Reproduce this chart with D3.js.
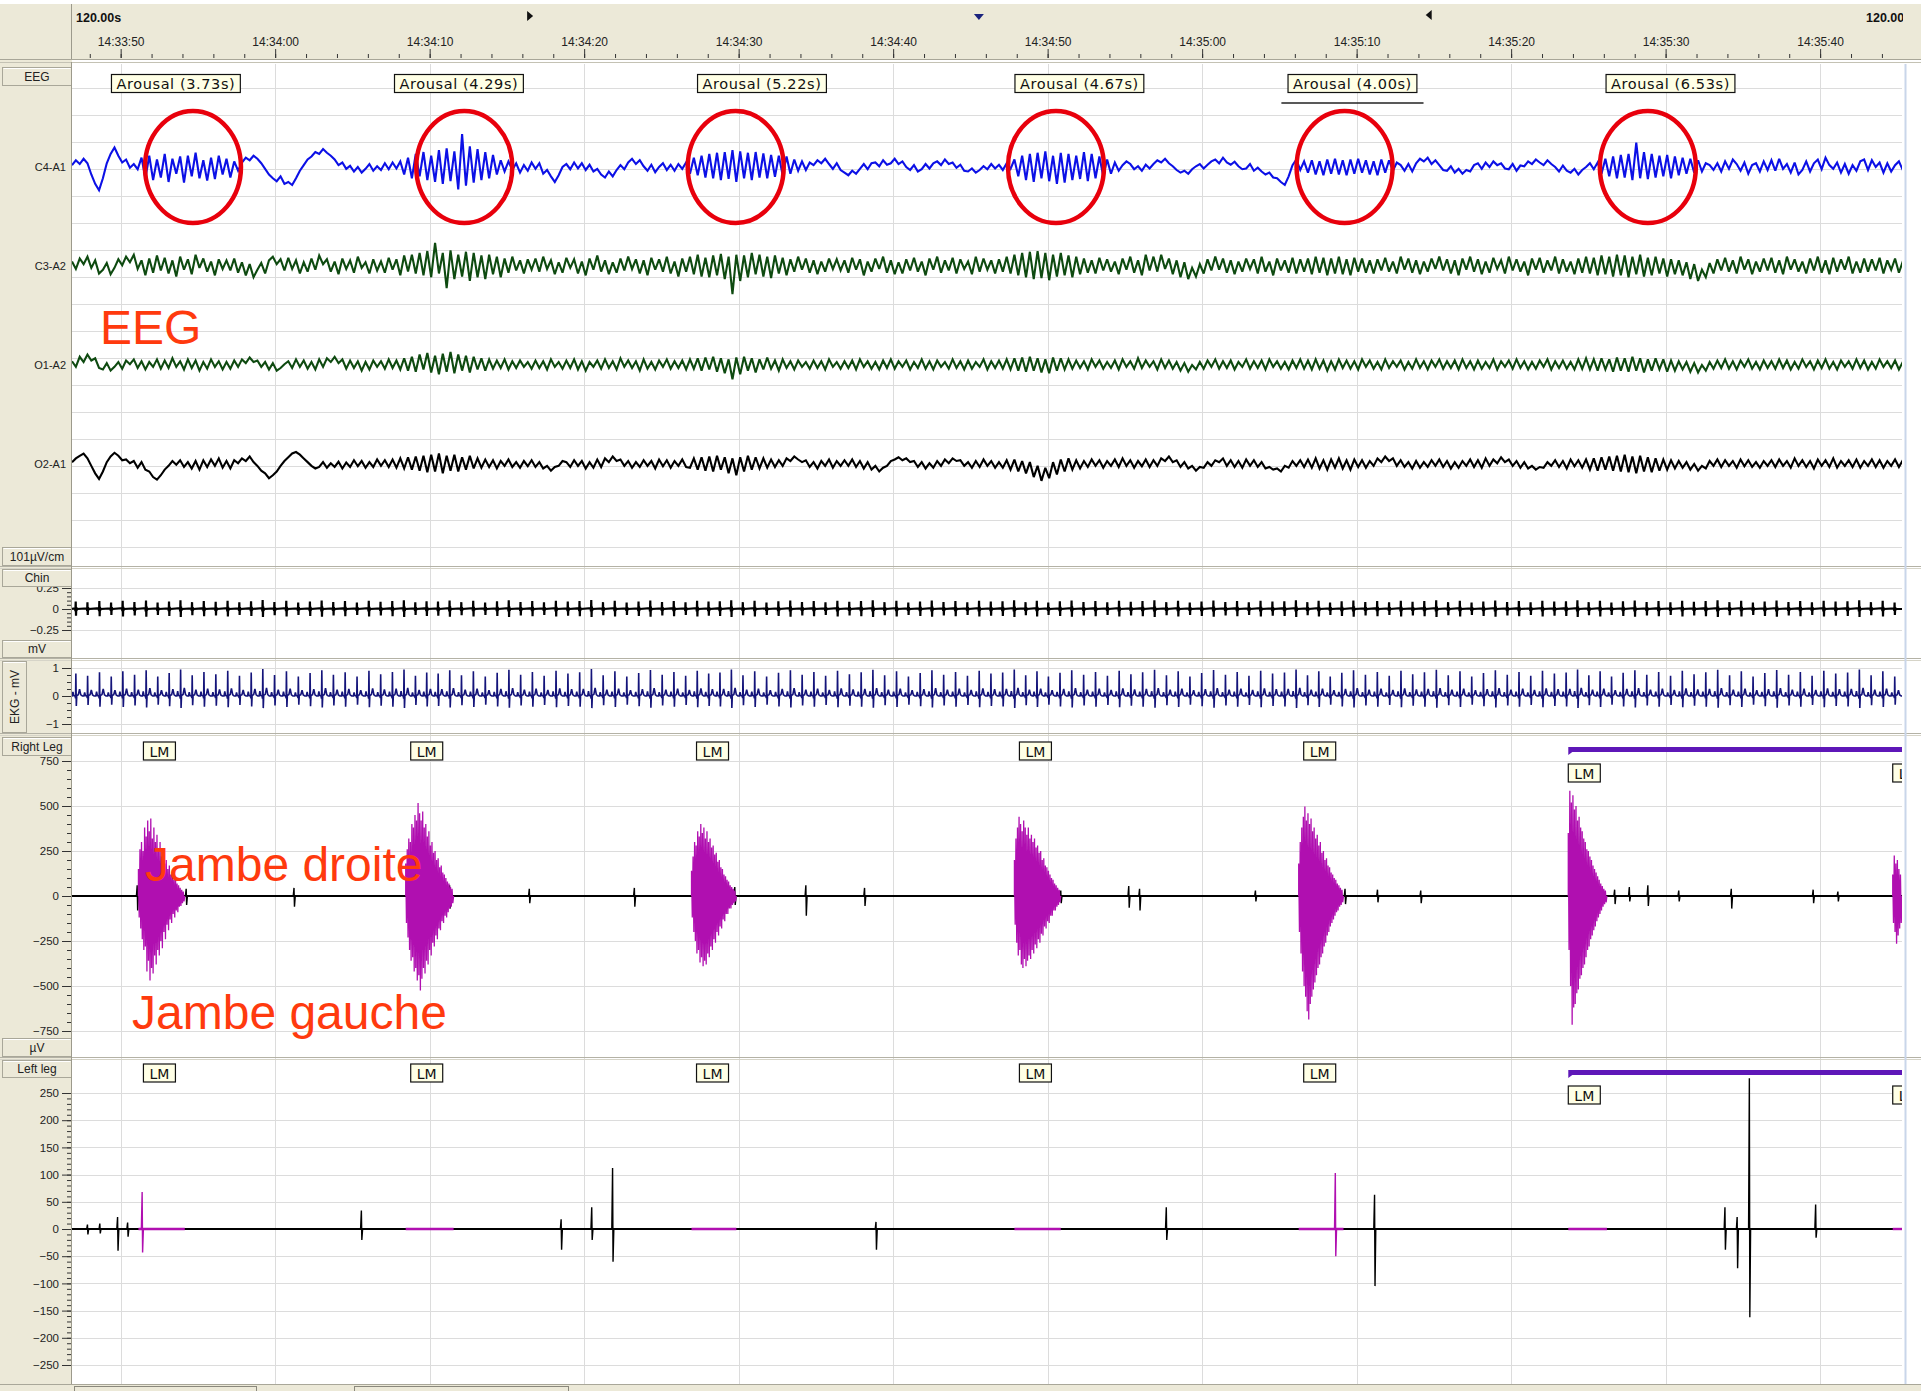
<!DOCTYPE html>
<html>
<head>
<meta charset="utf-8">
<script src="https://cdn.jsdelivr.net/npm/d3@7"></script>
<style>
  body { margin: 0; background: #fff; }
  svg { display: block; }
</style>
</head>
<body>
<svg id="chart" width="1921" height="1391"></svg>
<script>
// ---------------------------------------------------------------------------
// Recording window: 120 s page starting 14:33:46.85, samples every 0.25 s
// ---------------------------------------------------------------------------
const windowSeconds = 118.45;
const sampleStep = 0.25;

// EEG derivations (µV), one value every 0.25 s
const c4a1 = [
  5,18,8,22, 10,-20,-45,-62, -30,10,35,52, 30,12,20,-2, 8,-6,25,-30, 30,-35,20,-28, 35,-40,22,-18, 28,-42,30,-25, 38,-30,18,-36, 25,-32,30,-20,
  22,-28,15,-10, 12,25,18,30, 22,10,-5,-20, -30,-38,-25,-45, -40,-48,-30,-10, 5,20,28,40, 35,48,38,30, 20,5,12,-5, 3,-12,0,-15, -5,8,-10,2,
  -8,10,-6,12, -4,15,-20,25, -30,35,-25,40, -35,30,-40,45, -45,50,-38,42, -60,88,-50,55, -42,48,-35,40, -30,32,-20,18, -12,15,-8,10, -15,5,-10,12,
  -5,10,-18,-8, -25,-40,-22,0, 8,-6,12,-4, 10,-8,6,-12, -5,-20,-28,-12, -25,-8,5,-6, 12,22,8,18, 2,-10,6,-14, 0,10,-8,6, -10,8,-5,12,
  -18,25,-22,30, -28,35,-30,38, -35,40,-32,45, -40,42,-30,38, -35,40,-28,36, -30,32,-26,30, -22,28,-18,20, -10,15,-8,12, 5,18,10,22, 8,-5,10,-8,
  -15,-22,-10,-18, -5,8,-6,10, 12,2,18,6, 10,22,8,15, 0,-8,5,-12, -6,8,-4,10, 15,5,20,8, 12,-2,6,-10, -12,-4,-15,-8, 2,-6,8,-4,
  6,-8,10,-5, 20,-25,30,-35, 35,-40,38,-30, 42,-38,30,-45, 38,-42,35,-35, 30,-32,40,-38, 35,-30,28,-25, 20,-18,12,-10, 5,15,8,-6, 2,-10,6,-4,
  8,18,12,22, 10,2,-8,-15, -10,-18,-6,2, 8,-4,6,15, 20,10,25,12, 6,14,2,-6, -4,8,-10,-2, -12,-20,-15,-28, -30,-40,-48,-25, 5,20,-8,15,
  -15,18,-20,15, -22,20,-18,22, -20,18,-22,20, -18,22,-15,18, -20,15,-22,20, -15,18,-10,12, 5,-10,8,-12, 10,22,15,25, 8,18,5,-8, -10,2,-15,-5,
  -18,-8,-12,5, 10,-5,12,0, 15,5,10,-4, -6,8,-10,4, 2,15,8,20, 12,5,18,8, 0,-12,4,-10, -15,-5,-20,-8, 0,10,-6,12, -18,22,-25,28,
  -30,32,-28,35, -35,65,-30,40, -32,35,-28,30, -25,32,-30,28, -22,25,-18,22, -15,18,-12,10, 5,-8,10,-12, 15,-5,20,8, -10,12,-18,5, 10,-12,15,-8,
  18,-10,22,-5, 8,-15,12,-20, -8,15,-12,10, 20,-6,25,5, -5,12,-15,8, -18,5,-10,15, 20,-8,18,0, 12,-15,10,-12, 5,15,-8,10
];
const c3a2 = [
  12,-8,20,5,25,-5,15,-20,-10,8,-22,-5,18,2,25,10,30,-8,15,-25,20,-18,28,-12,22,-20,15,-28,25,-10,18,-22,30,-5,20,-15,12,-25,18,-8,
  15,-12,20,-18,10,-25,5,-30,-10,8,-20,15,25,5,18,-12,22,-8,15,-20,10,-15,20,-10,28,5,18,-15,12,-22,20,-8,15,-18,25,-5,10,-20,18,-12,
  12,-18,22,-10,18,-25,28,-15,30,-20,35,-25,40,-30,62,-20,35,-59,42,-35,30,-28,38,-40,35,-30,28,-35,30,-22,25,-30,20,-18,25,-12,15,-20,18,-10,
  20,-15,25,-8,15,-22,10,-18,22,-5,18,-20,12,-25,20,-10,28,-15,15,-22,10,-18,20,-12,25,-8,18,-20,15,-25,22,-10,18,-15,25,-20,12,-28,20,-15,
  25,-22,30,-28,22,-30,28,-25,32,-35,25,-75,30,-40,28,-30,35,-22,30,-28,25,-32,28,-20,22,-25,18,-15,25,-10,20,-18,15,-22,12,-15,20,-8,18,-12,
  15,-18,22,-10,18,-25,12,-15,20,-8,25,-18,15,-22,10,-20,18,-12,22,-15,12,-25,20,-10,25,-18,15,-12,22,-20,18,-8,12,-22,25,-15,20,-10,15,-20,
  18,-15,25,-20,30,-25,35,-30,38,-35,40,-32,35,-38,30,-28,35,-25,28,-30,25,-22,20,-18,15,-20,22,-12,18,-15,12,-22,20,-10,25,-18,15,-25,30,-12,
  25,-15,30,-8,20,-22,15,-30,10,-35,-5,-28,5,-20,18,-12,25,-10,20,-18,15,-22,12,-15,20,-8,18,-20,25,-15,12,-25,20,-12,15,-18,22,-20,18,-15,
  20,-22,25,-18,22,-25,20,-20,25,-22,18,-25,22,-15,20,-18,15,-20,18,-12,22,-15,12,-20,25,-10,20,-18,15,-22,12,-15,20,-8,25,-12,18,-20,15,-25,
  20,-10,25,-15,18,-22,12,-18,22,-8,15,-20,25,-12,18,-15,12,-25,20,-10,22,-18,15,-12,25,-20,18,-15,12,-22,20,-18,25,-20,22,-25,28,-22,25,-28,
  30,-25,28,-30,25,-22,30,-28,22,-25,25,-20,20,-28,18,-22,15,-25,10,-35,5,-40,-10,-30,8,-20,18,-12,22,-15,15,-20,25,-10,18,-22,12,-15,20,-12,
  22,-18,15,-22,25,-10,18,-15,12,-20,20,-12,25,-18,15,-22,22,-15,18,-10,25,-20,12,-18,20,-15,18,-12,22,-20,15,-10,20,-18,12,-15
];
const o1a2 = [
  10,-5,22,8,28,12,18,-8,-12,5,-15,-5,8,-10,12,2,15,-8,10,-12,8,-5,15,-10,12,-8,18,-5,10,-12,15,-8,12,-15,8,-10,15,-5,10,-12,
  8,-10,12,-5,15,5,20,8,12,-5,8,-12,5,-15,-8,2,10,-8,15,-5,12,-10,8,-12,15,-5,18,8,22,5,15,-10,12,-8,10,-15,8,-12,12,-5,
  10,-10,15,-8,12,-12,18,-15,22,-18,28,-12,32,-20,25,-25,30,-18,35,-22,28,-15,25,-20,22,-12,18,-15,15,-10,12,-8,15,-12,10,-8,12,-5,8,-10,
  12,-8,10,-12,15,-5,8,-10,12,-8,15,-12,10,-15,8,-5,12,-10,15,-8,10,-12,18,-5,12,-8,10,-15,15,-10,8,-12,12,-5,15,-10,10,-8,12,-12,
  15,-10,18,-15,20,-12,22,-18,18,-22,15,-38,20,-25,22,-15,18,-20,15,-12,20,-10,12,-15,15,-8,10,-12,12,-5,8,-10,12,-8,10,-12,15,-5,8,-10,
  10,-8,12,-12,15,-5,10,-10,8,-12,12,-8,15,-10,10,-5,12,-12,8,-8,15,-10,10,-12,12,-5,8,-10,15,-8,10,-12,12,-10,8,-5,15,-12,10,-8,
  12,-10,15,-12,18,-15,20,-18,22,-15,18,-20,15,-22,20,-15,18,-12,15,-10,12,-8,10,-12,15,-5,12,-10,8,-8,12,-12,15,-5,10,-10,18,-8,12,-5,
  10,-12,15,-8,12,-10,8,-15,5,-18,0,-12,8,-10,12,-5,15,-10,10,-8,12,-12,8,-5,15,-10,10,-8,12,-12,15,-5,10,-10,8,-12,12,-8,15,-10,
  12,-12,15,-10,12,-15,10,-12,15,-8,12,-10,10,-12,15,-5,12,-10,8,-12,15,-8,10,-5,12,-12,8,-10,15,-8,10,-12,12,-5,15,-10,10,-8,12,-12,
  15,-8,10,-12,12,-10,8,-8,15,-12,10,-5,12,-10,15,-8,10,-12,8,-10,12,-5,15,-12,10,-8,12,-10,8,-12,15,-10,18,-12,15,-15,18,-12,15,-18,
  20,-15,18,-18,22,-15,18,-20,15,-15,18,-12,15,-18,12,-15,10,-12,8,-18,5,-20,0,-15,8,-10,12,-8,15,-10,10,-12,12,-5,15,-10,8,-12,12,-8,
  10,-10,15,-8,12,-12,8,-10,15,-5,10,-12,12,-8,15,-10,8,-12,12,-5,10,-10,15,-8,12,-12,8,-10,15,-5,10,-8,12,-12,8,-10
];
const o2a1 = [
  5,15,22,28,15,-5,-25,-40,-20,5,20,30,22,10,12,2,8,-10,5,-15,-20,-35,-42,-30,-15,-5,8,-2,10,-8,5,-12,8,-15,10,-8,12,-5,15,-10,
  8,-12,10,2,15,8,20,5,-5,-18,-25,-38,-30,-20,-5,8,18,28,32,25,15,5,-5,-12,-8,5,-10,2,-8,6,-12,4,-8,10,-6,8,-10,5,-8,12,
  -5,10,-8,12,-10,15,-12,18,-15,20,-18,22,-22,25,-20,28,-25,22,-18,25,-20,18,-15,22,-12,15,-10,12,-8,10,-12,8,-5,12,-8,5,-10,8,-6,10,
  -8,5,-12,-5,-18,-8,-5,8,5,-8,10,-5,8,-12,5,-10,12,-8,15,5,20,8,12,-5,8,-10,5,-8,10,-5,8,-12,12,-6,10,-10,8,-5,12,-8,
  -10,15,-15,18,-18,20,-20,22,-15,18,-25,15,-30,18,-20,22,-15,18,-12,15,-10,12,-8,10,-5,15,8,20,12,5,10,-8,5,-12,8,-5,12,-10,8,-5,
  10,-5,12,-8,8,-12,5,-15,-5,-20,-10,-5,8,12,18,10,15,5,8,-8,5,-12,2,-10,8,-5,12,2,15,8,10,-5,5,-10,8,-8,12,-5,8,-10,
  5,-10,10,-15,12,-20,8,-25,5,-35,-5,-45,-10,-38,5,-28,12,-20,15,-15,10,-12,8,-8,12,-5,10,-10,8,-5,12,-8,15,-5,10,-10,8,-6,12,-8,
  10,-5,15,8,20,5,10,-8,5,-12,-5,-18,-8,-10,5,-5,10,5,15,-5,10,-8,8,-10,12,-5,10,-8,5,-12,-8,-15,-12,-20,-5,-10,8,-5,10,-8,
  12,-10,15,-12,10,-15,12,-10,15,-12,10,-15,12,-8,10,-10,8,-5,15,5,20,8,15,-5,10,-8,5,-12,8,-10,5,-8,10,-5,12,-8,8,-12,5,-10,
  8,-5,12,-8,10,-10,15,-5,12,2,18,5,12,-5,8,-10,5,-12,-5,-15,-8,-10,5,-5,10,-8,8,-12,12,-6,10,-10,12,-15,15,-18,18,-15,20,-18,
  22,-20,25,-22,20,-25,22,-20,18,-22,15,-18,12,-15,10,-12,8,-10,5,-15,0,-18,-5,-12,8,-5,12,-8,10,-5,8,-10,12,-6,10,-8,5,-10,8,-5,
  10,-8,12,-5,8,-10,15,-5,10,-8,8,-12,12,-5,10,-8,15,-10,8,-5,10,-8,12,-10,8,-5,12,-8,10,-10,8,-5,12,-8,10,-6
];

// Cardiac beats: R-peak times (s into the page) and R amplitude (mV)
const beatTimes = [
  0.25,1.01,1.78,2.54,3.29,4.05,4.80,5.55,6.29,7.03,7.78,8.54,9.31,10.08,10.84,11.60,12.35,13.11,13.88,14.65,
  15.41,16.17,16.92,17.68,18.45,19.22,19.98,20.74,21.49,22.23,22.96,23.70,24.45,25.21,25.98,26.75,27.52,28.28,29.04,29.80,
  30.56,31.33,32.10,32.86,33.62,34.38,35.14,35.91,36.68,37.44,38.20,38.96,39.72,40.47,41.21,41.94,42.68,43.43,44.19,44.96,
  45.73,46.50,47.26,48.02,48.78,49.55,50.32,51.08,51.84,52.60,53.37,54.14,54.90,55.66,56.42,57.19,57.96,58.72,59.48,60.24,
  60.99,61.73,62.46,63.20,63.95,64.71,65.48,66.25,67.02,67.78,68.54,69.30,70.07,70.84,71.60,72.36,73.12,73.89,74.66,75.42,
  76.18,76.94,77.71,78.48,79.23,79.97,80.70,81.44,82.19,82.95,83.72,84.49,85.26,86.02,86.78,87.54,88.31,89.08,89.84,90.60,
  91.36,92.13,92.90,93.66,94.42,95.18,95.95,96.71,97.45,98.18,98.91,99.65,100.40,101.16,101.93,102.70,103.47,104.23,104.99,105.75,
  106.52,107.29,108.05,108.81,109.57,110.34,111.11,111.87,112.63,113.39,114.16,114.93,115.69,116.45,117.21,117.98
];
const rPeak = [
  0.80,0.72,0.85,0.70,0.88,0.76,0.92,0.70,0.82,0.95,0.74,0.86,0.78,0.90,0.72,0.84,0.96,0.75,0.88,0.70,
  0.82,0.92,0.76,0.85,0.70,0.90,0.78,0.86,0.95,0.72,0.84,0.80,0.92,0.74,0.88,0.70,0.83,0.94,0.76,0.86,
  0.72,0.90,0.80,0.85,0.96,0.74,0.88,0.70,0.82,0.93,0.76,0.86,0.72,0.90,0.80,0.84,0.95,0.74,0.88,0.70,
  0.83,0.92,0.76,0.86,0.72,0.90,0.78,0.85,0.94,0.74,0.88,0.70,0.82,0.92,0.76,0.86,0.72,0.90,0.80,0.84,
  0.95,0.74,0.88,0.70,0.83,0.92,0.76,0.86,0.72,0.90,0.78,0.85,0.94,0.74,0.88,0.70,0.82,0.93,0.76,0.86,
  0.72,0.90,0.80,0.84,0.95,0.74,0.88,0.70,0.83,0.92,0.76,0.86,0.72,0.90,0.78,0.85,0.94,0.74,0.88,0.70,
  0.82,0.92,0.76,0.86,0.72,0.90,0.80,0.84,0.95,0.74,0.88,0.70,0.83,0.92,0.76,0.86,0.72,0.90,0.78,0.85,
  0.94,0.74,0.88,0.70,0.82,0.93,0.76,0.86,0.72,0.90,0.80,0.84,0.95,0.74,0.88,0.70
];
// Averaged beat waveform (offset from R in s, mV)
const ekgShapeT = [-0.24,-0.19,-0.14,-0.05,-0.02,0,0.03,0.06,0.16,0.24,0.32,0.42];
const ekgShapeV = [0,0.18,0.02,0,-0.10,1,-0.45,0.02,0.06,0.30,0.05,0];
// ECG artefact seen on the chin EMG (offset s, mV)
const chinShapeT = [-0.05,-0.03,-0.01,0.01,0.03,0.05,0.08];
const chinShapeV = [0.01,-0.03,0.11,-0.10,0.03,-0.02,0];

// Scored arousals
const arousalStart = [4.86, 22.90, 42.05, 62.87, 80.88, 100.20];
const arousalDur   = [3.73, 4.29, 5.22, 4.67, 4.00, 6.53];
// Circled arousal regions on C4-A1 (centre, s)
const circleTimes = [7.83, 25.39, 42.96, 63.69, 82.37, 102.0];

// Scored leg movements (start, duration in s)
const lmStart = [4.30, 21.60, 40.10, 61.00, 79.40, 96.85, 117.85];
const lmDur   = [3.0, 3.1, 2.9, 3.0, 2.9, 2.5, 0.6];
// Periodic leg movement series bar (start, end in s)
const plmSpan = [96.85, 118.45];

// Right leg EMG bursts: [max, min] µV every 0.1 s from each LM start
const rightBursts = [
  [[150,-120],[260,-180],[300,-240],[250,-300],[380,-280],[330,-420],[420,-360],[360,-470],[430,-400],[320,-430],[380,-330],[300,-380],[340,-300],[260,-330],[300,-250],[220,-290],[260,-200],[180,-240],[200,-160],[150,-190],[170,-130],[120,-150],[130,-100],[90,-120],[100,-80],[70,-90],[60,-60],[45,-55],[35,-40],[25,-30]],
  [[180,-150],[260,-230],[320,-300],[300,-360],[400,-340],[380,-420],[450,-400],[420,-470],[517,-440],[460,-525],[420,-460],[470,-400],[380,-430],[400,-360],[330,-380],[360,-300],[280,-330],[300,-260],[240,-280],[250,-220],[200,-240],[210,-180],[160,-190],[170,-140],[130,-150],[120,-110],[100,-120],[80,-90],[70,-70],[50,-60],[40,-40]],
  [[140,-120],[220,-200],[300,-250],[280,-320],[360,-300],[330,-370],[400,-340],[350,-390],[380,-360],[320,-380],[360,-320],[300,-340],[320,-280],[270,-300],[280,-240],[230,-260],[240,-200],[190,-220],[200,-170],[160,-180],[150,-130],[120,-140],[110,-100],[90,-100],[80,-70],[60,-70],[50,-50],[40,-40],[30,-30]],
  [[200,-160],[320,-260],[380,-330],[440,-300],[400,-380],[360,-400],[420,-350],[380,-390],[340,-360],[380,-330],[320,-350],[340,-300],[300,-320],[320,-270],[270,-290],[280,-240],[240,-260],[250,-210],[200,-220],[210,-170],[170,-180],[160,-140],[140,-150],[120,-110],[100,-110],[90,-80],[70,-80],[60,-60],[45,-50],[35,-35]],
  [[180,-200],[300,-320],[380,-420],[440,-500],[497,-560],[420,-640],[460,-686],[400,-600],[430,-560],[360,-520],[380,-480],[320,-440],[340,-400],[280,-380],[300,-340],[240,-320],[250,-280],[200,-260],[210,-220],[170,-200],[160,-170],[130,-150],[120,-130],[100,-110],[90,-90],[70,-80],[60,-60],[45,-50],[35,-35]],
  [[350,-300],[585,-500],[520,-715],[560,-620],[480,-600],[500,-540],[420,-520],[440,-460],[380,-440],[360,-400],[320,-380],[300,-340],[260,-300],[250,-280],[220,-240],[200,-220],[170,-190],[150,-170],[130,-140],[110,-120],[90,-100],[70,-80],[55,-60],[40,-45],[30,-35]],
  [[120,-150],[225,-200],[180,-265],[200,-220],[150,-180],[120,-150]]
];
// Isolated right leg EMG transients: [time s, max µV, min µV]
const rightSpikes = [
  [4.22,60,-80],[7.39,40,-50],[14.37,45,-60],[24.44,60,-70],[29.60,40,-40],[36.40,45,-60],[42.90,50,-50],
  [47.50,60,-110],[51.30,45,-55],[64.00,30,-40],[68.40,55,-65],[69.10,40,-80],[76.60,30,-30],[82.40,40,-45],
  [84.50,35,-35],[87.30,30,-40],[99.85,35,-45],[100.80,50,-30],[102.00,60,-55],[104.00,30,-30],[107.40,40,-70],
  [112.70,35,-40],[114.30,25,-30]
];
// Left leg EMG transients: [time s, max µV, min µV]
const leftSpikes = [
  [1.0,8,-10],[1.8,10,-8],[2.95,22,-40],[3.6,12,-14],[4.54,68,-43],[18.73,34,-20],[31.66,18,-38],[33.64,40,-20],
  [34.99,112,-60],[52.04,13,-38],[70.83,40,-20],[81.77,103,-50],[84.31,63,-105],[106.99,40,-38],[107.78,22,-72],
  [108.57,277,-162],[112.86,45,-16]
];

// Tick values
const chinTicks = [-0.25, 0, 0.25];
const ekgTicks = [-1, 0, 1];
const rightLegTicks = [-750, -500, -250, 0, 250, 500, 750];
const leftLegTicks = [-250, -200, -150, -100, -50, 0, 50, 100, 150, 200, 250];

// ---------------------------------------------------------------------------
const svg = d3.select("#chart");
const W = 1921, H = 1391;
const plotL = 72, plotR = 1902;
const beige = "#ECE9D8";
const uiFont = "'Liberation Sans', Arial, sans-serif";
const boxFont = "'DejaVu Sans', Verdana, sans-serif";

const t0 = new Date(2009, 0, 1, 14, 33, 46, 850);
const toDate = s => new Date(t0.getTime() + s * 1000);
const x = d3.scaleTime().domain([t0, toDate(windowSeconds)]).range([plotL, plotR]);
const xs = s => x(toDate(s));

svg.append("rect").attr("width", W).attr("height", H).attr("fill", "#fff");

// header band and left column
svg.append("rect").attr("x", 0).attr("y", 4).attr("width", W).attr("height", 56).attr("fill", beige);
svg.append("rect").attr("x", 0).attr("y", 60).attr("width", plotL).attr("height", H - 60).attr("fill", beige);
svg.append("line").attr("x1", 71.5).attr("x2", 71.5).attr("y1", 4).attr("y2", 60).attr("stroke", "#9C9A8C");

const defs = svg.append("defs");
defs.append("clipPath").attr("id", "plotClip")
  .append("rect").attr("x", plotL).attr("y", 62).attr("width", plotR - plotL).attr("height", 1384 - 62);
defs.append("clipPath").attr("id", "hdrClip")
  .append("rect").attr("x", 0).attr("y", 0).attr("width", 1903).attr("height", 60);

// panel frames (layout)
const panels = [
  { top: 67, bottom: 566 },
  { top: 569, bottom: 658 },
  { top: 661, bottom: 733 },
  { top: 736, bottom: 1057 },
  { top: 1060, bottom: 1384 }
];

// ---- time axis in header ----
const majorTimes = x.ticks(d3.timeSecond.every(10));
const minorTimes = x.ticks(d3.timeSecond.every(2));
const axMinor = svg.append("g").attr("transform", "translate(0,58)")
  .call(d3.axisTop(x).tickValues(minorTimes).tickSize(4).tickFormat(""));
const axMajor = svg.append("g").attr("transform", "translate(0,58)")
  .call(d3.axisTop(x).tickValues(majorTimes).tickSize(9).tickPadding(3).tickFormat(d3.timeFormat("%H:%M:%S")));
[axMinor, axMajor].forEach(g => {
  g.select(".domain").remove();
  g.selectAll(".tick line").attr("stroke", "#333");
});
axMajor.selectAll("text").attr("font-family", uiFont).attr("font-size", 12).attr("fill", "#222");

svg.append("line").attr("x1", 0).attr("x2", W).attr("y1", 59.5).attr("y2", 59.5).attr("stroke", "#A8A698");
svg.append("line").attr("x1", 0).attr("x2", W).attr("y1", 62.5).attr("y2", 62.5).attr("stroke", "#C4C2B4");

svg.append("text").attr("x", 76).attr("y", 22).text("120.00s")
  .attr("font-family", uiFont).attr("font-weight", "bold").attr("font-size", 12.5).attr("fill", "#111");
svg.append("text").attr("x", 1866).attr("y", 22).text("120.00s")
  .attr("font-family", uiFont).attr("font-weight", "bold").attr("font-size", 12.5).attr("fill", "#111")
  .attr("clip-path", "url(#hdrClip)");

// header markers
const mk = [29.59, 58.70, 87.88];
svg.append("path").attr("d", `M${xs(mk[0]) - 2},11 L${xs(mk[0]) + 4},16 L${xs(mk[0]) - 2},21 Z`).attr("fill", "#111");
svg.append("path").attr("d", `M${xs(mk[1]) - 5},14 L${xs(mk[1]) + 5},14 L${xs(mk[1])},20 Z`).attr("fill", "#1A237E");
svg.append("path").attr("d", `M${xs(mk[2]) + 2},10 L${xs(mk[2]) - 4},15 L${xs(mk[2]) + 2},20 Z`).attr("fill", "#111");

// ---- scales ----
const eegChannels = [
  { name: "C4-A1", data: c4a1, base: 167, color: "#0C10E6" },
  { name: "C3-A2", data: c3a2, base: 266, color: "#0E4A10" },
  { name: "O1-A2", data: o1a2, base: 365, color: "#0E4A10" },
  { name: "O2-A1", data: o2a1, base: 464, color: "#000000" }
];
eegChannels.forEach(c => {
  c.y = d3.scaleLinear().domain([-101, 101]).range([c.base + 37.8, c.base - 37.8]);
});
const yChin = d3.scaleLinear().domain([-0.25, 0.25]).range([630, 588]);
const yEkg = d3.scaleLinear().domain([-1, 1]).range([724, 668]);
const yRight = d3.scaleLinear().domain([-750, 750]).range([1031, 761]);
const yLeft = d3.scaleLinear().domain([-250, 250]).range([1365, 1093]);

// ---- grid ----
const grid = svg.append("g").attr("stroke", "#DCDCDC").attr("stroke-width", 1);
d3.range(18).forEach(k => {
  const yy = 88 + 27 * k + 0.5;
  grid.append("line").attr("x1", plotL).attr("x2", plotR).attr("y1", yy).attr("y2", yy);
});
const hLine = yy => grid.append("line").attr("x1", plotL).attr("x2", plotR)
  .attr("y1", Math.round(yy) + 0.5).attr("y2", Math.round(yy) + 0.5);
chinTicks.filter(v => v !== 0).forEach(v => hLine(yChin(v)));
ekgTicks.filter(v => v !== 0).forEach(v => hLine(yEkg(v)));
rightLegTicks.filter(v => v !== 0).forEach(v => hLine(yRight(v)));
leftLegTicks.filter(v => v !== 0).forEach(v => hLine(yLeft(v)));
majorTimes.forEach(d => {
  const xx = Math.round(x(d)) + 0.5;
  grid.append("line").attr("x1", xx).attr("x2", xx).attr("y1", 64).attr("y2", 1384);
});

// panel separators
panels.forEach((p, i) => {
  if (i === 0) return;
  svg.append("line").attr("x1", 0).attr("x2", W).attr("y1", p.top - 2.5).attr("y2", p.top - 2.5).attr("stroke", "#B4B2A6");
  svg.append("line").attr("x1", 0).attr("x2", W).attr("y1", p.top - 0.5).attr("y2", p.top - 0.5).attr("stroke", "#D6D4C8");
});
svg.append("line").attr("x1", 1905.5).attr("x2", 1905.5).attr("y1", 64).attr("y2", 1384).attr("stroke", "#C9D6EA").attr("stroke-width", 2);

// ---- traces ----
const traces = svg.append("g").attr("clip-path", "url(#plotClip)");

eegChannels.forEach(c => {
  const line = d3.line().x((d, i) => xs(i * sampleStep)).y(d => c.y(d));
  traces.append("path").attr("d", line(c.data)).attr("fill", "none")
    .attr("stroke", c.color).attr("stroke-width", 2.1).attr("stroke-linejoin", "miter").attr("stroke-miterlimit", 3);
});

// beat-locked traces built from the stored waveforms
function beatSeries(shapeT, shapeV, amps) {
  const pts = [[0, 0]];
  beatTimes.forEach((bt, i) => {
    shapeT.forEach((dt, j) => pts.push([bt + dt, shapeV[j] * (amps ? amps[i] : 1)]));
  });
  pts.push([windowSeconds, 0]);
  return pts.filter(p => p[0] >= 0).sort((a, b) => a[0] - b[0]);
}
const chinLine = d3.line().x(d => xs(d[0])).y(d => yChin(d[1]));
traces.append("path").attr("d", chinLine(beatSeries(chinShapeT, chinShapeV, rPeak)))
  .attr("fill", "none").attr("stroke", "#000").attr("stroke-width", 2.2);
const ekgLine = d3.line().x(d => xs(d[0])).y(d => yEkg(d[1]));
traces.append("path").attr("d", ekgLine(beatSeries(ekgShapeT, ekgShapeV, rPeak)))
  .attr("fill", "none").attr("stroke", "#14147A").attr("stroke-width", 1.6);

// leg EMG
function spikePath(yScale, s) {
  return `M${xs(s[0] - 0.05)},${yScale(0)} L${xs(s[0])},${yScale(s[1])} L${xs(s[0] + 0.03)},${yScale(s[2])} L${xs(s[0] + 0.08)},${yScale(0)}`;
}
const inLM = t => lmStart.some((s, i) => t >= s && t <= s + lmDur[i]);
const magenta = "#B00FB0";

traces.append("line").attr("x1", plotL).attr("x2", plotR).attr("y1", yRight(0)).attr("y2", yRight(0))
  .attr("stroke", "#000").attr("stroke-width", 2);
rightSpikes.forEach(s => traces.append("path").attr("d", spikePath(yRight, s))
  .attr("fill", "none").attr("stroke", "#000").attr("stroke-width", 1.4));
rightBursts.forEach((env, b) => {
  const pts = [[lmStart[b], 0]];
  env.forEach((pr, i) => {
    pts.push([lmStart[b] + i * 0.1, pr[0]]);
    pts.push([lmStart[b] + i * 0.1 + 0.05, pr[1]]);
  });
  pts.push([lmStart[b] + env.length * 0.1, 0]);
  const ln = d3.line().x(d => xs(d[0])).y(d => yRight(d[1]));
  traces.append("path").attr("d", ln(pts)).attr("fill", "none").attr("stroke", magenta).attr("stroke-width", 1.3);
});

traces.append("line").attr("x1", plotL).attr("x2", plotR).attr("y1", yLeft(0)).attr("y2", yLeft(0))
  .attr("stroke", "#000").attr("stroke-width", 2.2);
lmStart.forEach((s, i) => traces.append("line")
  .attr("x1", xs(s)).attr("x2", xs(s + lmDur[i])).attr("y1", yLeft(0)).attr("y2", yLeft(0))
  .attr("stroke", magenta).attr("stroke-width", 2.4));
leftSpikes.forEach(s => traces.append("path").attr("d", spikePath(yLeft, s))
  .attr("fill", "none").attr("stroke", inLM(s[0]) ? magenta : "#000").attr("stroke-width", 1.4));

// ---- scoring overlays ----
const ov = svg.append("g").attr("clip-path", "url(#plotClip)");
arousalStart.forEach((s, i) => {
  const cx = xs(s + arousalDur[i] / 2);
  const g = ov.append("g");
  const txt = g.append("text").attr("x", cx).attr("y", 89).attr("text-anchor", "middle")
    .attr("font-family", boxFont).attr("font-size", 14.5).attr("letter-spacing", 0.6).attr("fill", "#111")
    .text(`Arousal (${arousalDur[i].toFixed(2)}s)`);
  const bb = txt.node().getBBox();
  g.insert("rect", "text").attr("x", bb.x - 5).attr("y", 74.5).attr("width", bb.width + 10).attr("height", 18)
    .attr("fill", "#FFFFE6").attr("stroke", "#111").attr("stroke-width", 1.2);
});
// selection underline beneath the fifth arousal
ov.append("line").attr("x1", xs(78.28)).attr("x2", xs(87.48)).attr("y1", 103).attr("y2", 103)
  .attr("stroke", "#222").attr("stroke-width", 1.6);

// periodic leg movement bars
[{ y: 749 }, { y: 1072 }].forEach(r => {
  ov.append("path")
    .attr("d", `M${xs(plmSpan[0])},${r.y + 6} L${xs(plmSpan[0])},${r.y - 2} L${xs(plmSpan[1])},${r.y - 2} L${xs(plmSpan[1])},${r.y + 3} L${xs(plmSpan[0]) + 4},${r.y + 3} Z`)
    .attr("fill", "#5E17B8");
});
// LM boxes
[{ y: 751 }, { y: 1073 }].forEach(r => {
  lmStart.forEach(s => {
    const shifted = s >= plmSpan[0];
    const cy = r.y + (shifted ? 22 : 0);
    const bx = xs(s) + (shifted ? 0 : 5);
    ov.append("rect").attr("x", bx).attr("y", cy - 9).attr("width", 32).attr("height", 18)
      .attr("fill", "#FFFFE6").attr("stroke", "#111").attr("stroke-width", 1.2);
    ov.append("text").attr("x", bx + 16).attr("y", cy + 5.5).attr("text-anchor", "middle")
      .attr("font-family", boxFont).attr("font-size", 14).attr("fill", "#111").text("LM");
  });
});

// red circles around the arousals
circleTimes.forEach(t => {
  svg.append("ellipse").attr("cx", xs(t)).attr("cy", 167).attr("rx", 48).attr("ry", 56)
    .attr("fill", "none").attr("stroke", "#E8000C").attr("stroke-width", 4.5);
});
const annot = [
  { text: "EEG", x: 100, y: 344 },
  { text: "Jambe droite", x: 145, y: 881 },
  { text: "Jambe gauche", x: 132, y: 1029 }
];
annot.forEach(a => svg.append("text").attr("x", a.x).attr("y", a.y).text(a.text)
  .attr("font-family", "'Liberation Sans', Arial, sans-serif").attr("font-size", 48).attr("fill", "#FF3A0E"));

// ---- left axes ----
function leftAxis(scale, major, minor, fmt) {
  const gMin = svg.append("g").attr("transform", `translate(${plotL},0)`)
    .call(d3.axisLeft(scale).tickValues(minor).tickSize(5).tickFormat(""));
  const gMaj = svg.append("g").attr("transform", `translate(${plotL},0)`)
    .call(d3.axisLeft(scale).tickValues(major).tickSize(10).tickPadding(3).tickFormat(fmt));
  [gMin, gMaj].forEach(g => {
    g.select(".domain").remove();
    g.selectAll(".tick line").attr("stroke", "#333");
  });
  gMaj.selectAll("text").attr("font-family", uiFont).attr("font-size", 11.5).attr("fill", "#222");
}
leftAxis(yChin, chinTicks, d3.range(-25, 26, 5).map(v => v / 100), d => d === 0 ? "0" : d3.format(".2f")(d));
leftAxis(yEkg, ekgTicks, d3.range(-4, 5).map(v => v / 4), d3.format("d"));
leftAxis(yRight, rightLegTicks, d3.range(-750, 751, 50), d3.format("d"));
leftAxis(yLeft, leftLegTicks, d3.range(-250, 251, 10), d3.format("d"));

// ---- label cells ----
function cell(x0, y0, w, h, label, opts = {}) {
  svg.append("rect").attr("x", x0 + 0.5).attr("y", y0 + 0.5).attr("width", w - 1).attr("height", h - 1)
    .attr("fill", beige).attr("stroke", "#A9A799");
  svg.append("line").attr("x1", x0 + 1.5).attr("x2", x0 + w - 1.5).attr("y1", y0 + 1.5).attr("y2", y0 + 1.5).attr("stroke", "#fff");
  if (label) {
    const t = svg.append("text").attr("font-family", uiFont).attr("font-size", 12).attr("fill", "#222").text(label);
    if (opts.rotate) {
      t.attr("transform", `translate(${x0 + w / 2 + 4},${y0 + h / 2}) rotate(-90)`).attr("text-anchor", "middle");
    } else {
      t.attr("x", x0 + w / 2).attr("y", y0 + h / 2 + 4).attr("text-anchor", "middle");
    }
  }
}
cell(2, 67, 70, 19, "EEG");
cell(2, 547, 70, 19, "101µV/cm");
cell(2, 569, 70, 18, "Chin");
cell(2, 640, 70, 18, "mV");
cell(2, 661, 25, 72, "EKG - mV", { rotate: true });
cell(2, 737, 70, 19, "Right Leg");
cell(2, 1038, 70, 19, "µV");
cell(2, 1060, 70, 18, "Left leg");

eegChannels.forEach(c => svg.append("text").attr("x", 66).attr("y", c.base + 4).attr("text-anchor", "end")
  .attr("font-family", uiFont).attr("font-size", 11).attr("fill", "#222").text(c.name));

svg.append("line").attr("x1", 71.5).attr("x2", 71.5).attr("y1", 62).attr("y2", 1384).attr("stroke", "#9C9A8C");

// status strip
svg.append("rect").attr("x", 0).attr("y", 1384).attr("width", W).attr("height", 7).attr("fill", beige);
svg.append("line").attr("x1", 0).attr("x2", W).attr("y1", 1384.5).attr("y2", 1384.5).attr("stroke", "#A9A799");
[[74, 256], [354, 568]].forEach(r => svg.append("rect").attr("x", r[0] + 0.5).attr("y", 1386.5)
  .attr("width", r[1] - r[0]).attr("height", 6).attr("fill", "none").attr("stroke", "#8A887C"));
</script>
</body>
</html>
